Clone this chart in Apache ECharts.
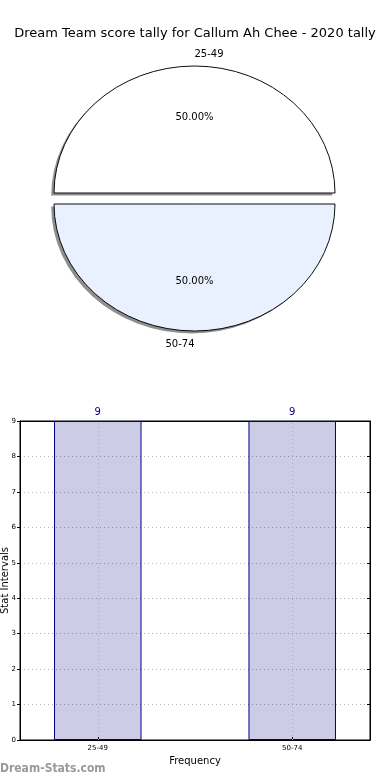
<!DOCTYPE html>
<html><head><meta charset="utf-8">
<script src="https://cdn.jsdelivr.net/npm/echarts@6/dist/echarts.min.js"></script>
<style>html,body{margin:0;padding:0;background:#fff}#c{width:390px;height:780px}</style>
</head><body><div id="c"></div>
<script>
const titleText = 'Dream Team score tally for Callum Ah Chee - 2020 tally';
const pieCategories = ['25-49', '50-74'];
const pieValues = [9, 9];
const pieColors = ['#ffffff', '#eaf1fe'];
const barCategories = ['25-49', '50-74'];
const barPositions = [0, 1];
const barValues = [9, 9];
const yTicks = [0, 1, 2, 3, 4, 5, 6, 7, 8, 9];

const FONT = 'DejaVu Sans';
const total = pieValues.reduce((a, b) => a + b, 0);
const cx = 194.5, cy = 198.5, rx = 140.5, ry = 127, explode = 5.5;

function renderPie(params, api) {
  const i = params.dataIndex;
  let before = 0;
  for (let k = 0; k < i; k++) before += pieValues[k];
  const v = api.value(0);
  const a1 = before / total * 2 * Math.PI;
  const a2 = (before + v) / total * 2 * Math.PI;
  const am = (a1 + a2) / 2;
  const ox = cx + explode * Math.cos(am);
  const oy = cy - explode * Math.sin(am);
  const sy = ry / rx;
  const sec = (x, y, fill, stroke) => ({
    type: 'sector',
    x: x, y: y, originX: 0, originY: 0, scaleY: sy,
    shape: { cx: 0, cy: 0, r: rx, r0: 0, startAngle: -a2, endAngle: -a1, clockwise: true },
    style: { fill: fill, stroke: stroke, lineWidth: stroke ? 1 : 0, strokeNoScale: true }
  });
  const lx = ox + 1.1 * rx * Math.cos(am);
  const ly = oy - 1.1 * ry * Math.sin(am);
  const px = ox + 0.6 * rx * Math.cos(am);
  const py = oy - 0.6 * ry * Math.sin(am);
  const pct = (v / total * 100).toFixed(2) + '%';
  return {
    type: 'group',
    children: [
      sec(ox - 2.8, oy + 2.5, '#8f8f8f', null),
      sec(ox, oy, pieColors[i], '#000'),
      { type: 'text', x: lx, y: ly + 1, style: { text: pieCategories[i], font: '10px ' + FONT, fill: '#000',
          align: Math.cos(am) > 0 ? 'left' : 'right', verticalAlign: 'middle' } },
      { type: 'text', x: px, y: py + 1, style: { text: pct, font: '10px ' + FONT, fill: '#000',
          align: 'center', verticalAlign: 'middle' } }
    ]
  };
}

const chart = echarts.init(document.getElementById('c'), null, { renderer: 'canvas' });
chart.setOption({
  animation: false,
  backgroundColor: '#fff',
  title: { text: titleText, left: 'center', top: 22,
    textStyle: { fontFamily: FONT, fontSize: 13, fontWeight: 'normal', color: '#000' } },
  graphic: [{ type: 'text', left: 0, top: 763,
    style: { text: 'Dream-Stats.com', font: 'bold 12px "DejaVu Sans Condensed", "DejaVu Sans"', fill: '#999999' } }],
  grid: { left: 20, right: 20, top: 421, bottom: 40, containLabel: false, outerBoundsMode: 'none',
    show: true, borderColor: '#000', borderWidth: 1, backgroundColor: 'transparent' },
  xAxis: [{
    type: 'value', min: -0.4, max: 1.4,
    name: 'Frequency', nameLocation: 'middle', nameGap: 16, nameMoveOverlap: false,
    nameTextStyle: { fontFamily: FONT, fontSize: 10, color: '#000' },
    axisLine: { show: true, onZero: false, lineStyle: { color: '#000' } },
    axisTick: { show: true, customValues: barPositions, inside: true, length: 3, lineStyle: { color: '#000' } },
    axisLabel: { customValues: barPositions, fontFamily: FONT, fontSize: 7, color: '#000', margin: 5,
      formatter: v => barCategories[barPositions.indexOf(Math.round(v))] || '' },
    splitLine: { show: false }
  }, {
    type: 'value', min: -0.4, max: 1.4, position: 'top',
    axisLine: { show: true, onZero: false, lineStyle: { color: '#000' } },
    axisTick: { show: false }, axisLabel: { show: false }, splitLine: { show: false }
  }],
  yAxis: [{
    type: 'value', min: yTicks[0], max: yTicks[yTicks.length - 1], interval: 1,
    name: 'Stat Intervals', nameLocation: 'middle', nameGap: 10, nameRotate: 90, nameMoveOverlap: false,
    nameTextStyle: { fontFamily: FONT, fontSize: 10, color: '#000' },
    axisLine: { show: true, onZero: false, lineStyle: { color: '#000' } },
    axisTick: { show: true, length: 3, lineStyle: { color: '#000' } },
    axisLabel: { fontFamily: FONT, fontSize: 7, color: '#000', margin: 4 },
    splitLine: { show: true, lineStyle: { color: '#b0b0b0', type: [1, 3], width: 1 } }
  }, {
    type: 'value', min: yTicks[0], max: yTicks[yTicks.length - 1], interval: 1, position: 'right',
    axisLine: { show: true, onZero: false, lineStyle: { color: '#000' } },
    axisTick: { show: true, inside: true, length: 3, lineStyle: { color: '#000' } },
    axisLabel: { show: false }, splitLine: { show: false }
  }],
  series: [
    {
      type: 'custom', coordinateSystem: 'none', renderItem: renderPie,
      data: pieValues.map(v => [v]), silent: true
    },
    {
      type: 'bar', barWidth: 87.5, xAxisIndex: 0, yAxisIndex: 0,
      data: barPositions.map((p, i) => [p, barValues[i]]),
      itemStyle: { color: 'rgba(0,0,128,0.2)', borderColor: '#000080', borderWidth: 1 },
      label: { show: true, position: 'top', distance: 4, color: '#000080', fontFamily: FONT, fontSize: 10 },
      markLine: {
        silent: true, symbol: 'none', label: { show: false },
        lineStyle: { color: '#b0b0b0', type: [1, 3], width: 1 },
        data: barPositions.map(p => ({ xAxis: p }))
      }
    }
  ]
});
</script></body></html>
